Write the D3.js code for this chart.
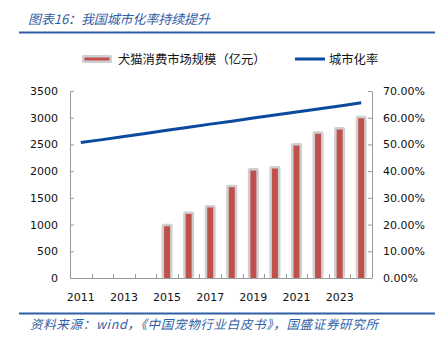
<!DOCTYPE html>
<html><head><meta charset="utf-8">
<script src="https://cdn.jsdelivr.net/npm/d3@7"></script>
<style>
html,body{margin:0;padding:0;background:#fff;}
svg{display:block;}
</style></head>
<body>
<svg id="c" width="441" height="340"></svg>
<script>
const years = [2011,2012,2013,2014,2015,2016,2017,2018,2019,2020,2021,2022,2023,2024];
const marketSize = [null,null,null,null,970,1200,1320,1700,2010,2050,2480,2700,2780,2990];
const urbanRate = [0.507,0.518,0.530,0.541,0.553,0.564,0.576,0.587,0.599,0.610,0.621,0.633,0.644,0.656];
const leftTicks = [0,500,1000,1500,2000,2500,3000,3500];
const rightTicks = [0,0.1,0.2,0.3,0.4,0.5,0.6,0.7];
const xLabelYears = [2011,2013,2015,2017,2019,2021,2023];
const titleText = "图表16：我国城市化率持续提升";
const sourceText = "资料来源：wind，《中国宠物行业白皮书》，国盛证券研究所";
const legendBar = "犬猫消费市场规模（亿元）";
const legendLine = "城市化率";

const svg = d3.select("#c");
const L = 70, R = 372, T = 91, B = 278;
const blue = "#2f5ea6";
const cjk = "'Noto Sans CJK SC', sans-serif";
const num = "'DejaVu Sans', sans-serif";

// Title
svg.append("text").attr("x", 28).attr("y", 24).attr("font-family", cjk)
  .attr("font-size", 13).attr("font-style", "italic").attr("fill", blue)
  .attr("textLength", 182).attr("lengthAdjust", "spacing").text(titleText);
svg.append("rect").attr("x", 19).attr("y", 31.5).attr("width", 416).attr("height", 2).attr("fill", blue);

// Footer
svg.append("rect").attr("x", 19).attr("y", 312.5).attr("width", 416).attr("height", 2).attr("fill", blue);
svg.append("text").attr("x", 30).attr("y", 328.5).attr("font-family", cjk)
  .attr("font-size", 12.5).attr("font-style", "italic").attr("fill", blue)
  .attr("textLength", 348).attr("lengthAdjust", "spacing").text(sourceText);

const x = d3.scaleBand().domain(years).range([L, R]).padding(0);
const y = d3.scaleLinear().domain([0, 3500]).range([B, T]);
const y2 = d3.scaleLinear().domain([0, 0.7]).range([B, T]);

const axisColor = "#999";

// Left axis
const gl = svg.append("g").attr("transform", `translate(${L},0)`)
  .call(d3.axisLeft(y).tickValues(leftTicks).tickFormat(d3.format("d")).tickSizeInner(-4).tickSizeOuter(0).tickPadding(12));
gl.select(".domain").attr("stroke", axisColor);
gl.selectAll(".tick line").attr("stroke", axisColor);
gl.selectAll(".tick text").attr("font-family", num).attr("font-size", 11).attr("fill", "#111");

// Right axis
const gr = svg.append("g").attr("transform", `translate(${R},0)`)
  .call(d3.axisRight(y2).tickValues(rightTicks).tickFormat(d3.format(".2%")).tickSizeInner(-4).tickSizeOuter(0).tickPadding(11));
gr.select(".domain").attr("stroke", axisColor);
gr.selectAll(".tick line").attr("stroke", axisColor);
gr.selectAll(".tick text").attr("font-family", num).attr("font-size", 11).attr("fill", "#111");

// Bottom axis line and boundary ticks
svg.append("line").attr("x1", L).attr("x2", R).attr("y1", B + 0.5).attr("y2", B + 0.5).attr("stroke", axisColor);
const bounds = years.map(d => x(d)).concat([R]);
svg.append("g").selectAll("line").data(bounds).join("line")
  .attr("x1", d => Math.round(d) + 0.5).attr("x2", d => Math.round(d) + 0.5)
  .attr("y1", B).attr("y2", B - 4).attr("stroke", axisColor);
svg.append("g").selectAll("text").data(xLabelYears).join("text")
  .attr("x", d => x(d) + x.bandwidth() / 2).attr("y", 301)
  .attr("text-anchor", "middle").attr("font-family", num).attr("font-size", 11).attr("fill", "#111")
  .text(d => d);

// Bars
const barData = years.map((yr, i) => ({yr, v: marketSize[i]})).filter(d => d.v != null);
const bw = 6, halo = 2.5;
svg.append("g").selectAll("rect").data(barData).join("rect")
  .attr("x", d => x(d.yr) + x.bandwidth() / 2 - bw / 2 - halo)
  .attr("y", d => y(d.v) - halo)
  .attr("width", bw + 2 * halo)
  .attr("height", d => B - y(d.v) + halo)
  .attr("rx", 2).attr("fill", "#cfcfcf");
svg.append("g").selectAll("rect").data(barData).join("rect")
  .attr("x", d => x(d.yr) + x.bandwidth() / 2 - bw / 2)
  .attr("y", d => y(d.v))
  .attr("width", bw)
  .attr("height", d => B - y(d.v))
  .attr("fill", "#c0504d");

// Line
const line = d3.line().x((d, i) => x(years[i]) + x.bandwidth() / 2).y(d => y2(d));
svg.append("path").datum(urbanRate).attr("d", line)
  .attr("fill", "none").attr("stroke", "#0a4a9e").attr("stroke-width", 3);

// Legend
const lg = svg.append("g");
lg.append("rect").attr("x", 82).attr("y", 55).attr("width", 30).attr("height", 8).attr("rx", 1.5).attr("fill", "#cfcfcf");
lg.append("rect").attr("x", 84.5).attr("y", 57.5).attr("width", 25).attr("height", 3).attr("fill", "#c0504d");
lg.append("text").attr("x", 118).attr("y", 63.5).attr("font-family", cjk).attr("font-size", 12.3).attr("fill", "#111").text(legendBar);
lg.append("line").attr("x1", 295).attr("x2", 325).attr("y1", 59).attr("y2", 59).attr("stroke", "#0a4a9e").attr("stroke-width", 3);
lg.append("text").attr("x", 329).attr("y", 63.5).attr("font-family", cjk).attr("font-size", 12.3).attr("fill", "#111").text(legendLine);
</script>
</body></html>
